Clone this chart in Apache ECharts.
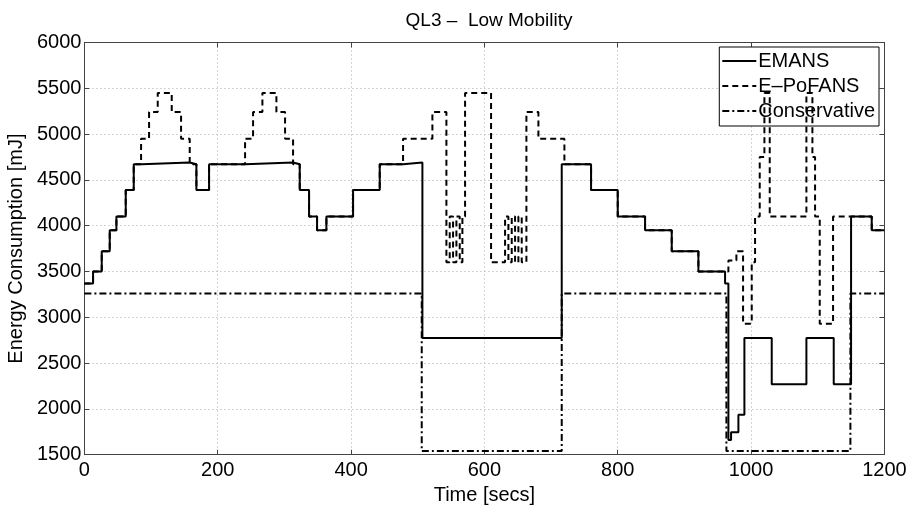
<!DOCTYPE html>
<html>
<head>
<meta charset="utf-8">
<script src="https://cdn.jsdelivr.net/npm/echarts@6/dist/echarts.min.js"></script>
<style>html,body{margin:0;padding:0;background:#fff}#c{width:909px;height:505px}</style>
</head>
<body>
<div id="c"></div>
<script>
const titleText = 'QL3 \u2013  Low Mobility';
const xName = 'Time [secs]';
const yName = 'Energy Consumption [mJ]';
const seriesNames = ['EMANS', 'E\u2013PoFANS', 'Conservative'];

// step change times [secs] and values [mJ] (value holds from time until next time)
const emansT = [0,13,26,38,48,62,74,86,158,168,187,241,313,323,337,349,363,403,443,478,507,716,760,800,841,881,921,961,966,970,981,990,1031,1083,1124,1150,1181,1200];
const emansV = [3370,3500,3720,3950,4100,4390,4670,4690,4670,4390,4670,4690,4670,4390,4100,3950,4100,4390,4670,4690,2775,4670,4390,4100,3950,3720,3500,3370,1660,1745,1935,2775,2270,2775,2270,4100,3950,3950];

const epofT = [0,13,26,38,48,62,74,85,97,110,131,145,158,168,187,241,253,267,288,301,313,323,337,349,363,403,443,478,522,543,548,553,558,563,567,571,610,631,636,641,646,651,656,663,681,720,760,800,841,881,921,966,978,988,1001,1006,1013,1020,1028,1083,1092,1096,1103,1123,1181,1200];
const epofV = [3370,3500,3720,3950,4100,4390,4670,4950,5240,5450,5240,4950,4670,4390,4670,4950,5240,5450,5240,4950,4670,4390,4100,3950,4100,4390,4670,4950,5240,3600,4100,3600,4100,3600,4100,5450,3600,4100,3600,4100,3600,4100,3600,5240,4950,4670,4390,4100,3950,3720,3500,3620,3720,2930,3600,4100,4750,5450,4100,5450,4750,4100,2930,4100,3950,3950];

const consT = [0,506,716,963,1149,1200];
const consV = [3260,1540,3260,1540,3260,3260];

const xTicks = [0,200,400,600,800,1000,1200];
const yTicks = [1500,2000,2500,3000,3500,4000,4500,5000,5500,6000];

// build stair-step vertices: value holds from each time until the next one
function stairs(t, v) {
  const out = [];
  for (let i = 0; i < t.length; i++) {
    if (i > 0) out.push([t[i], v[i - 1]]);
    out.push([t[i], v[i]]);
  }
  return out;
}

const font = 'Liberation Sans';
const chart = echarts.init(document.getElementById('c'), null, {renderer: 'canvas'});
const axisCommon = {
  type: 'value',
  axisLine: {show: true, onZero: false, lineStyle: {color: '#444', width: 1}},
  axisTick: {show: true, inside: true, length: 5, lineStyle: {color: '#444'}},
  splitLine: {show: false},
};
chart.setOption({
  animation: false,
  backgroundColor: '#fff',
  title: {
    text: titleText, left: 484, top: 6, textAlign: 'center',
    textStyle: {fontFamily: font, fontSize: 19, fontWeight: 'normal', color: '#000'}
  },
  grid: {left: 84.4, right: 24.6, top: 42.5, bottom: 50.3, containLabel: false, outerBoundsMode: 'none'},
  legend: {
    orient: 'vertical', right: 30, top: 47,
    backgroundColor: '#fff', borderColor: '#000', borderWidth: 1, borderRadius: 0,
    padding: [4, 4, 5, 2], itemGap: 5, itemWidth: 34, itemHeight: 14,
    icon: 'inherit',
    itemStyle: {opacity: 0},
    textStyle: {fontFamily: font, fontSize: 20, color: '#000', padding: [0, 0, 0, -3]},
    data: seriesNames
  },
  xAxis: [
    Object.assign({}, axisCommon, {
      min: 0, max: 1200, interval: 200, position: 'bottom',
      name: xName, nameLocation: 'middle', nameGap: 27,
      nameTextStyle: {fontFamily: font, fontSize: 20, color: '#000'},
      axisLabel: {fontFamily: font, fontSize: 20, color: '#000', margin: 6,
        formatter: v => String(v)},
      splitLine: {show: true, lineStyle: {color: '#aaa', type: [1, 3], width: 1}}
    }),
    Object.assign({}, axisCommon, {
      min: 0, max: 1200, interval: 200, position: 'top',
      axisLabel: {show: false}
    })
  ],
  yAxis: [
    Object.assign({}, axisCommon, {
      min: 1500, max: 6000, interval: 500, position: 'left',
      name: yName, nameLocation: 'middle', nameGap: 55, nameRotate: 90,
      nameTextStyle: {fontFamily: font, fontSize: 20, color: '#000'},
      axisLabel: {fontFamily: font, fontSize: 20, color: '#000', margin: 3,
        formatter: v => String(v)},
      splitLine: {show: true, lineStyle: {color: '#aaa', type: [1, 3], width: 1}}
    }),
    Object.assign({}, axisCommon, {
      min: 1500, max: 6000, interval: 500, position: 'right',
      axisLabel: {show: false}
    })
  ],
  series: [
    {name: seriesNames[0], type: 'line', data: stairs(emansT, emansV),
     symbol: 'none', z: 5, lineStyle: {color: '#000', width: 2, type: 'solid'}, itemStyle: {color: '#000'}},
    {name: seriesNames[1], type: 'line', data: stairs(epofT, epofV),
     symbol: 'none', z: 4, lineStyle: {color: '#000', width: 2, type: [6, 4]}, itemStyle: {color: '#000'}},
    {name: seriesNames[2], type: 'line', data: stairs(consT, consV),
     symbol: 'none', z: 3, lineStyle: {color: '#000', width: 2, type: [7, 3, 2, 3]}, itemStyle: {color: '#000'}}
  ]
});
</script>
</body>
</html>
